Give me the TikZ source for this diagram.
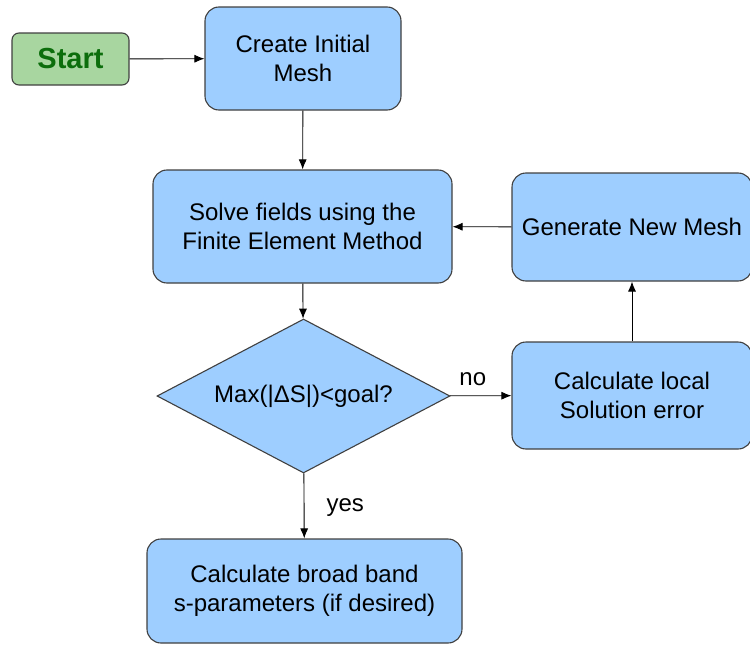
\documentclass[tikz,border=0pt]{standalone}
\usepackage{fontspec}
\setmainfont{Liberation Sans}
\usetikzlibrary{shapes.geometric,arrows.meta}
\definecolor{boxblue}{RGB}{158,206,255}
\definecolor{startfill}{RGB}{168,214,160}
\definecolor{startgreen}{RGB}{12,110,12}
\definecolor{edgegray}{RGB}{64,64,64}

\begin{document}
\begin{tikzpicture}[x=1pt,y=1pt]
		\tikzstyle{every node}+=[inner sep=0pt, font=\fontsize{24}{29}\selectfont]
		\tikzstyle{process}=[draw=edgegray, line width=1.1pt, fill=boxblue, rounded corners=14pt, align=center]
		\tikzstyle{decision}=[draw=edgegray, line width=1.1pt, fill=boxblue, diamond, aspect=1.9]
		\tikzstyle{flow}=[black, line width=0.9pt, -{Latex[length=10pt,width=8pt]}]
		\useasboundingbox (0,0) rectangle (750,-645);
		\node [draw=edgegray, line width=1.1pt, fill=startfill, rounded corners=7pt, minimum width=117pt, minimum height=52pt, text=startgreen, font=\fontsize{29}{34}\selectfont\bfseries] (start) at (70.5,-59) {Start};
		\node [process, minimum width=196pt, minimum height=103pt] (init) at (303,-58.5) {Create Initial\\Mesh};
		\node [process, minimum width=299pt, minimum height=113pt] (solve) at (302.5,-226.5) {Solve fields using the\\Finite Element Method};
		\node [decision, minimum width=293pt, minimum height=154pt] (check) at (303.5,-396) {Max(|ΔS|)<goal?};
		\node [process, minimum width=240pt, minimum height=108pt] (newmesh) at (632,-227) {Generate New Mesh};
		\node [process, minimum width=240pt, minimum height=107pt] (error) at (632,-395.5) {Calculate local\\Solution error};
		\node [process, minimum width=315pt, minimum height=104pt] (sparam) at (304.5,-591) {Calculate broad band\\s-parameters (if desired)};
		\draw [flow] (start) -- (init);
		\draw [flow] (init) -- (solve);
		\draw [flow] (solve) -- (check);
		\draw [flow] (check) -- node [above=10pt, xshift=-8pt] (no) {no} (error);
		\draw [flow] (error) -- (newmesh);
		\draw [flow] (newmesh) -- (solve);
		\draw [flow] (check) -- node [right=22pt, yshift=-2pt] (yes) {yes} (sparam);
\end{tikzpicture}
\end{document}
